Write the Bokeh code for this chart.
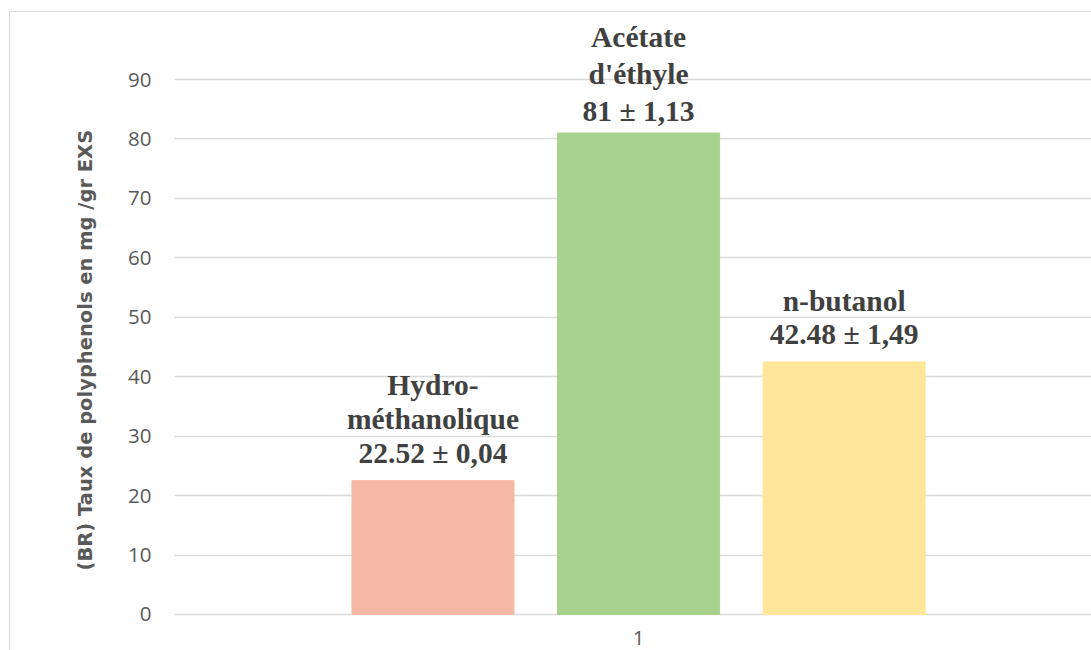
from bokeh.plotting import figure
from bokeh.models import ColumnDataSource, Range1d, FixedTicker, LabelSet, Title
from bokeh.core.properties import value
from bokeh.embed import file_html
from bokeh.resources import INLINE

# Extract names, polyphenol content (mg/g EXS) and standard deviations
extracts = [["Hydro-", "méthanolique"], ["Acétate", "d'éthyle"], ["n-butanol"]]
values = [22.52, 81.0, 42.48]
value_text = ["22.52", "81", "42.48"]
errors = ["0,04", "1,13", "1,49"]
category = ["1"]
y_ticks = [0, 10, 20, 30, 40, 50, 60, 70, 80, 90]
y_title = "(BR) Taux de polyphenols en mg /gr EXS"

# Styling
colors = ["#F4B8A4", "#A9D18E", "#FFE699"]
label_gap = [18, 12, 18]        # px between bar top and last baseline
line_spacing = [34, 37, 33]     # px between label lines
bar_step = 0.2215
bar_width = 0.1746
grey = "#D9D9D9"
text_grey = "#595959"

positions = [(i - (len(values) - 1) / 2) * bar_step for i in range(len(values))]

bars = ColumnDataSource(dict(x=positions, top=values, color=colors))

# one row per label line, counted upwards from the bar top
lx, ly, lt, lo = [], [], [], []
for i, (names, v, e) in enumerate(zip(extracts, value_text, errors)):
    lines = names + [f"{v} ± {e}"]
    for j, line in enumerate(reversed(lines)):
        lx.append(positions[i])
        ly.append(values[i])
        lt.append(line)
        lo.append(label_gap[i] + j * line_spacing[i])
label_src = ColumnDataSource(dict(x=lx, y=ly, text=lt, offset=lo))

p = figure(width=1091, height=650, output_backend="svg", toolbar_location=None,
           x_range=Range1d(-0.5, 0.488), y_range=Range1d(-6.06, 103.3),
           min_border_left=174, min_border_top=0, min_border_bottom=0,
           min_border_right=0)
p.outline_line_color = None
p.background_fill_color = None
p.border_fill_color = None
# chart-area border (left and top edges, the rest runs off the page)
p.styles = {
    "background-image": f"linear-gradient({grey}, {grey}), linear-gradient({grey}, {grey})",
    "background-size": "1px 100%, 100% 1px",
    "background-position": "9px 11px, 9px 11px",
    "background-repeat": "no-repeat",
}

p.vbar(x="x", top="top", bottom=0, width=bar_width, color="color", source=bars)

p.xaxis.visible = False
p.xgrid.visible = False
p.ygrid.grid_line_color = grey
p.ygrid.grid_line_width = 1.3

ax = p.yaxis[0]
ax.ticker = FixedTicker(ticks=y_ticks)
ax.axis_line_color = None
ax.major_tick_line_color = None
ax.minor_tick_line_color = None
ax.major_tick_out = 0
ax.major_label_standoff = 23
ax.major_label_text_font = "Open Sans"
ax.major_label_text_font_size = "20.5px"
ax.major_label_text_color = text_grey

# vertical axis title, set beside the tick labels
p.add_layout(Title(text=y_title, align="left", offset=80, standoff=57,
                   text_font="DejaVu Sans", text_font_style="bold",
                   text_font_size="19.5px", text_color=text_grey), "left")

p.add_layout(LabelSet(x="x", y="y", text="text", source=label_src,
                      y_offset="offset", text_align="center",
                      text_baseline="alphabetic",
                      text_font=value("Liberation Serif"),
                      text_font_style="bold", text_font_size="29.5px",
                      text_color="#404040"))

# category label under the group of bars
cat_src = ColumnDataSource(dict(x=[0], y=[0], text=category))
p.add_layout(LabelSet(x="x", y="y", text="text", source=cat_src,
                      y_offset=-24, text_align="center",
                      text_baseline="middle", text_font=value("Open Sans"),
                      text_font_size="20.5px", text_color=text_grey))

open("out.html", "w").write(file_html(p, INLINE))
